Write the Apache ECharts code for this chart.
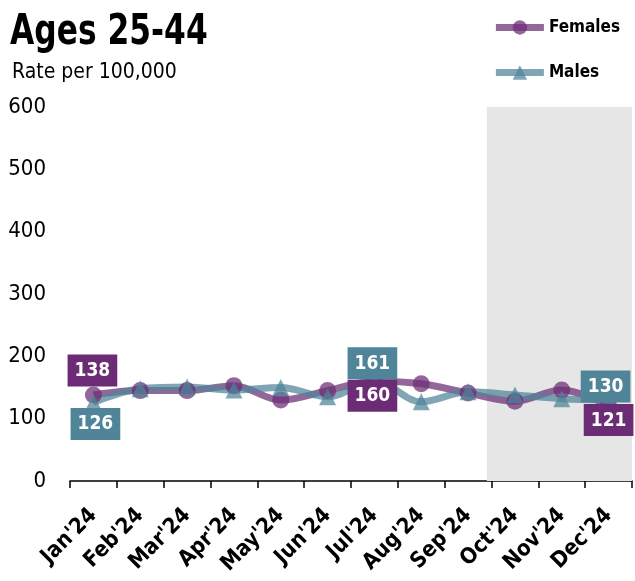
<!DOCTYPE html>
<html>
<head>
	<meta charset="UTF-8">
	<title>Ages 25-44</title>
	<script src="https://cdn.jsdelivr.net/npm/echarts@6/dist/echarts.min.js"></script>
	<style>
		html, body { margin: 0; padding: 0; background: #fff; }
	</style>
</head>
<body>
<div id="main" style="width: 635px;height:581px;"></div>
<script type="text/javascript">
	var months = ["Jan'24", "Feb'24", "Mar'24", "Apr'24", "May'24", "Jun'24",
		"Jul'24", "Aug'24", "Sep'24", "Oct'24", "Nov'24", "Dec'24"];
	var females = [138, 145, 145, 153, 130, 145, 160, 156, 141, 128, 146, 121];
	var males = [126, 148, 151, 146, 150, 135, 161, 127, 143, 138, 132, 130];
	var yTicks = [0, 100, 200, 300, 400, 500, 600];
	// shaded part starts a bit before Oct (in category units on a hidden value axis)
	var shadeFrom = 8.9;

	var FONT = "'DejaVu Sans Condensed', 'DejaVu Sans', sans-serif";
	var PURPLE = '#6b2c75';
	var TEAL = '#4f8499';
	var PURPLE_T = 'rgba(107,44,117,0.72)';
	var TEAL_T = 'rgba(79,132,153,0.72)';

	// which points get a value box: index -> [position, distance, x offset]
	var femaleLabels = { 0: ['top', 0, -1], 6: ['bottom', -10, -2], 11: ['bottom', -10, 0] };
	var maleLabels = { 0: ['bottom', -3, 2], 6: ['top', -7, -2], 11: ['top', -11, -3] };

	function buildData(values, labels, color) {
		return values.map(function (v, i) {
			var item = { value: v };
			if (labels[i]) {
				item.label = {
					show: true,
					position: labels[i][0],
					distance: labels[i][1],
					offset: [labels[i][2], 0],
					backgroundColor: color,
					color: '#fff',
					fontFamily: FONT,
					fontWeight: 'bold',
					fontSize: 19,
					padding: [7, 7, 6, 7]
				};
			}
			return item;
		});
	}

	var myChart = echarts.init(document.getElementById('main'));

	var option = {
		animation: false,
		textStyle: { fontFamily: FONT },
		graphic: [
			{
				type: 'text',
				left: 10,
				top: 11,
				scaleX: 0.81,
				style: { text: 'Ages 25-44', fontFamily: FONT, fontSize: 43, fontWeight: 'bold', fill: '#000' }
			},
			{
				type: 'text',
				left: 12,
				top: 62,
				style: { text: 'Rate per 100,000', fontFamily: FONT, fontSize: 21, fill: '#000' }
			}
		],
		legend: {
			orient: 'vertical',
			right: 10,
			top: 14,
			itemWidth: 48,
			itemHeight: 18,
			itemGap: 28,
			lineStyle: { width: 7 },
			textStyle: { fontFamily: FONT, fontSize: 17, fontWeight: 'bold', color: '#000' },
			data: ['Females', 'Males']
		},
		grid: {
			left: 70,
			right: 3,
			top: 107,
			bottom: 100
		},
		xAxis: [
			{
				type: 'category',
				data: months,
				boundaryGap: true,
				axisLine: { lineStyle: { color: '#000', width: 1.5 } },
				axisTick: { show: true, length: 7, lineStyle: { color: '#000', width: 1.5 } },
				axisLabel: {
					interval: 0,
					rotate: 45,
					margin: 31,
					fontFamily: FONT,
					fontSize: 22,
					fontWeight: 'bold',
					color: '#000'
				}
			},
			{
				type: 'value',
				min: 0,
				max: 12,
				show: false
			}
		],
		yAxis: {
			type: 'value',
			min: yTicks[0],
			max: yTicks[yTicks.length - 1],
			interval: 100,
			axisLine: { show: false },
			axisTick: { show: false },
			splitLine: { show: false },
			axisLabel: {
				margin: 24,
				fontFamily: FONT,
				fontSize: 22,
				color: '#000'
			}
		},
		series: [
			{
				name: 'shade',
				type: 'line',
				xAxisIndex: 1,
				data: [],
				silent: true,
				markArea: {
					silent: true,
					itemStyle: { color: '#e6e6e6' },
					data: [[{ xAxis: shadeFrom }, { xAxis: 12 }]]
				}
			},
			{
				name: 'Females',
				type: 'line',
				data: buildData(females, femaleLabels, PURPLE),
				smooth: 0.35,
				symbol: 'circle',
				symbolSize: 17,
				itemStyle: { color: PURPLE_T },
				lineStyle: { color: PURPLE_T, width: 7 },
				emphasis: { disabled: true },
				z: 3
			},
			{
				name: 'Males',
				type: 'line',
				data: buildData(males, maleLabels, TEAL),
				smooth: 0.35,
				symbol: 'triangle',
				symbolSize: 17,
				itemStyle: { color: TEAL_T },
				lineStyle: { color: TEAL_T, width: 7 },
				emphasis: { disabled: true },
				z: 3
			}
		]
	};

	myChart.setOption(option);
</script>
</body>
</html>
